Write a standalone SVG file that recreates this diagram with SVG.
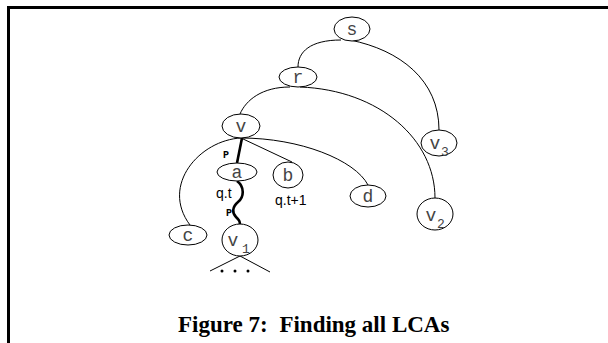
<svg xmlns="http://www.w3.org/2000/svg" width="608" height="343" viewBox="0 0 608 343">
<style>
.frame{fill:none;stroke:#000;stroke-width:3}
.node ellipse{fill:#fff;stroke:#000;stroke-width:1}
.lbl{font-family:"Liberation Mono","DejaVu Sans Mono",monospace;font-size:18px;fill:#444;text-anchor:middle}
.sub{font-family:"Liberation Mono","DejaVu Sans Mono",monospace;font-size:13px;fill:#444}
.edge{fill:none;stroke:#000;stroke-width:1}
.thick{fill:none;stroke:#000;stroke-width:2.6}
.note{font-family:"Liberation Sans",Arial,sans-serif;font-size:14px;fill:#000}
.p{font-family:"Liberation Mono","Courier New",monospace;font-size:10px;font-weight:bold;fill:#000}
.cap{font-family:"Liberation Serif","Times New Roman",serif;font-size:23px;font-weight:bold;fill:#000}
</style>
<rect width="608" height="343" fill="#fff"/>
<path class="frame" d="M8.5,343 V7.5 H608"/>
<g id="connectors">
<path class="edge" d="M341,40 C310,40 298,52 298,67"/>
<path class="edge" d="M350,40 C400,50 439,80 439,130"/>
<path class="edge" d="M290,87 C262,87 246,100 240,114"/>
<path class="edge" d="M300,87 C380,90 435,140 435,198"/>
<path class="edge" d="M241,138 C200,140 160,185 190,225"/>
<path class="edge" d="M241,138 L292,162"/>
<path class="edge" d="M241,138 C300,138 355,160 368,185"/>
<path class="thick" d="M242,138 L237,163"/>
<path class="thick" d="M237,181 C245,187 244,197 238,202 C232,207 232,213 236,217 C239,220 240,221 240,225"/>
<path class="edge" d="M210,271 L240,256 L270,272"/>
<circle cx="222" cy="271" r="1.5"/>
<circle cx="235" cy="271" r="1.5"/>
<circle cx="248" cy="271" r="1.5"/>
<text class="p" x="223" y="158">P</text>
<text class="p" x="226" y="216">P</text>
<text class="note" x="216" y="198">q.t</text>
<text class="note" x="275" y="205">q.t+1</text>
</g>
<g id="node-s" class="node"><ellipse cx="352" cy="29" rx="18" ry="12"/><text class="lbl" x="352" y="35">s</text></g>
<g id="node-r" class="node"><ellipse cx="298" cy="77" rx="19" ry="10"/><text class="lbl" x="298" y="83">r</text></g>
<g id="node-v" class="node"><ellipse cx="241" cy="126" rx="19" ry="12"/><text class="lbl" x="241" y="132">v</text></g>
<g id="node-a" class="node"><ellipse cx="237" cy="172" rx="20" ry="9"/><text class="lbl" x="237" y="178">a</text></g>
<g id="node-b" class="node"><ellipse cx="288" cy="175" rx="15" ry="13"/><text class="lbl" x="288" y="181">b</text></g>
<g id="node-c" class="node"><ellipse cx="188" cy="235" rx="19" ry="10"/><text class="lbl" x="188" y="241">c</text></g>
<g id="node-v1" class="node"><ellipse cx="240" cy="240" rx="18" ry="16"/><text class="lbl" x="233" y="246">v</text><text class="sub" x="242" y="253">1</text></g>
<g id="node-d" class="node"><ellipse cx="368" cy="196" rx="18" ry="11"/><text class="lbl" x="368" y="202">d</text></g>
<g id="node-v2" class="node"><ellipse cx="435" cy="214" rx="18" ry="16"/><text class="lbl" x="431" y="221">v</text><text class="sub" x="437" y="228">2</text></g>
<g id="node-v3" class="node"><ellipse cx="439" cy="143" rx="18" ry="13"/><text class="lbl" x="435" y="149">v</text><text class="sub" x="441" y="156">3</text></g>
<text class="cap" x="178" y="332">Figure 7:<tspan dx="6"> Finding all LCAs</tspan></text>
</svg>
